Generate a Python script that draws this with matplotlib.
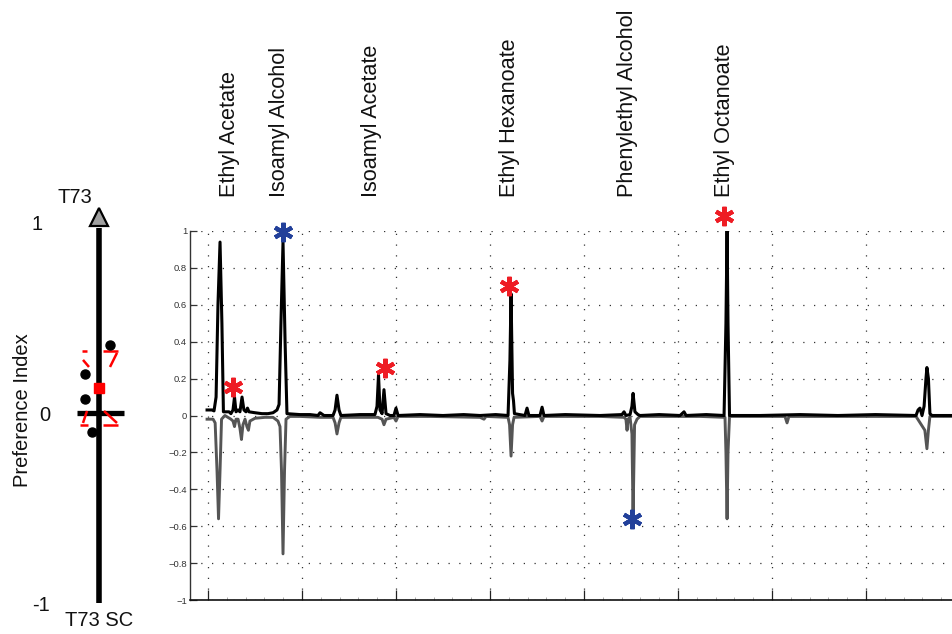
import matplotlib
matplotlib.use("Agg")
import matplotlib.pyplot as plt
from matplotlib.ticker import FixedLocator, FixedFormatter, MultipleLocator

plt.rcParams['font.family'] = ['Liberation Sans', 'DejaVu Sans']

# ---------------- data ----------------
# retention time (min) / response for T73 (positive trace)
t73_x = [4.95, 5.21, 5.32, 5.43, 5.53, 5.64, 5.74, 5.82, 5.96, 6.12, 6.22, 6.33, 6.41, 6.49,
         6.60, 6.70, 6.81, 6.91, 7.02, 7.10, 7.18, 7.50, 7.87, 8.19, 8.46, 8.67, 8.78, 8.88,
         8.99, 9.10, 9.20, 9.89, 10.43, 10.85, 10.96, 11.17, 11.65, 11.76, 11.86, 11.97, 12.07,
         13.09, 13.88, 13.99, 14.07, 14.15, 14.26, 14.36, 14.47, 14.68, 14.89, 15.00, 15.11,
         16.28, 17.5, 18.6, 19.47, 20.3, 20.96, 21.06, 21.12, 21.20, 21.25, 21.30, 21.86, 21.97,
         22.07, 22.66, 22.77, 22.87, 24.0, 25.85, 27.02, 27.13, 27.23, 27.45, 27.55, 27.61,
         27.71, 27.87, 27.98, 29.0, 30.11, 30.32, 30.43, 31.5, 32.45, 32.55, 32.61, 32.66,
         32.74, 34.36, 36.5, 38.5, 40.5, 42.66, 42.77, 42.87, 42.98, 43.09, 43.19, 43.24,
         43.32, 43.40, 43.51, 44.73]
t73_y = [0.03, 0.03, 0.025, 0.10, 0.60, 0.94, 0.50, 0.02, 0.02, 0.02, 0.01, 0.03, 0.10, 0.02,
         0.03, 0.02, 0.10, 0.03, 0.02, 0.04, 0.02, 0.015, 0.01, 0.01, 0.015, 0.03, 0.06, 0.50,
         0.94, 0.40, 0.01, 0.005, 0.005, 0.0, 0.015, 0.0, 0.0, 0.03, 0.11, 0.03, 0.0,
         0.005, 0.005, 0.05, 0.22, 0.03, 0.01, 0.14, 0.01, 0.0, 0.0, 0.04, 0.0,
         0.005, 0.0, 0.005, 0.0, 0.005, 0.0, 0.30, 0.66, 0.12, 0.08, 0.01, 0.0, 0.04,
         0.0, 0.0, 0.045, 0.0, 0.005, 0.0, 0.005, 0.02, 0.0, 0.005, 0.05, 0.12,
         0.02, 0.005, 0.0, 0.005, 0.0, 0.02, 0.0, 0.005, 0.0, 0.50, 1.00, 0.50,
         0.0, 0.0, 0.005, 0.0, 0.005, 0.0, 0.03, 0.04, 0.0, 0.05, 0.20, 0.26,
         0.20, 0.01, 0.0, 0.0]

# T73 SC (negative trace)
sc_x = [4.95, 5.27, 5.38, 5.48, 5.56, 5.64, 5.72, 5.90, 6.06, 6.22, 6.33, 6.41, 6.49, 6.60,
        6.70, 6.78, 6.86, 6.97, 7.07, 7.15, 7.23, 7.50, 8.03, 8.46, 8.72, 8.83, 8.91, 8.99,
        9.07, 9.15, 9.36, 9.89, 10.96, 11.65, 11.76, 11.86, 11.97, 12.07, 13.09, 14.04, 14.26,
        14.36, 14.47, 14.89, 15.00, 15.11, 16.81, 19.47, 19.68, 19.79, 20.96, 21.04, 21.12,
        21.20, 21.28, 22.66, 22.77, 22.87, 25.85, 27.13, 27.23, 27.29, 27.34, 27.45, 27.55,
        27.61, 27.69, 27.82, 27.98, 31.17, 32.50, 32.55, 32.61, 32.66, 32.74, 35.69, 35.80,
        35.90, 42.66, 43.13, 43.24, 43.32, 43.40, 44.73]
sc_y = [-0.02, -0.02, -0.04, -0.30, -0.56, -0.30, -0.02, 0.0, -0.01, -0.02, -0.03, -0.06,
        -0.02, -0.02, -0.07, -0.13, -0.05, -0.02, -0.06, -0.08, -0.03, -0.015, -0.01, -0.01,
        -0.03, -0.06, -0.30, -0.75, -0.30, -0.02, -0.005, -0.005, -0.01, -0.01, -0.04, -0.10,
        -0.04, -0.01, -0.01, -0.01, -0.02, -0.05, -0.02, -0.01, -0.03, -0.005, -0.005, -0.01,
        -0.02, -0.005, -0.01, -0.05, -0.22, -0.05, -0.01, -0.005, -0.03, -0.005, -0.005,
        -0.01, -0.02, -0.08, -0.02, -0.01, -0.10, -0.55, -0.05, -0.02, -0.005, -0.005,
        -0.01, -0.20, -0.56, -0.20, -0.005, -0.005, -0.04, -0.005, -0.005, -0.08, -0.18,
        -0.08, -0.005, -0.005]

compounds = ["Ethyl Acetate", "Isoamyl Alcohol", "Isoamyl Acetate", "Ethyl Hexanoate",
             "Phenylethyl Alcohol", "Ethyl Octanoate"]
compound_rt = [6.17, 8.78, 13.72, 21.06, 27.34, 32.45]

# significance asterisks (x, y, colour group)
star_x = [6.33, 8.99, 14.41, 21.01, 32.45, 27.55]
star_y = [0.154, 0.995, 0.257, 0.70, 1.08, -0.56]
star_kind = ["red", "blue", "red", "red", "red", "blue"]

y_ticks = [-1, -0.8, -0.6, -0.4, -0.2, 0, 0.2, 0.4, 0.6, 0.8, 1]
y_ticklabels = ["\u22121", "\u22120.8", "\u22120.6", "\u22120.4", "\u22120.2", "0",
                "0.2", "0.4", "0.6", "0.8", "1"]
x_ticks = [5, 10, 15, 20, 25, 30, 35, 40]

# preference index panel
pi_points = [0.354, 0.202, 0.071, -0.102]
pi_jitter = [0.275, -0.35, -0.35, -0.175]
pi_mean = 0.131
box_q3, box_q1 = 0.323, -0.066
notch_hi, notch_lo = 0.239, 0.008
notch_top, notch_bot = 0.276, -0.055

# ---------------- figure ----------------
W, H = 952, 634
fig = plt.figure(figsize=(W / 100, H / 100), dpi=100)

RED = "#ee1c24"
BLUE = "#22409a"
GRAY = "#555555"

ax = fig.add_axes([190 / W, 34 / H, 770 / W, 369 / H])
ax.plot(sc_x, sc_y, color=GRAY, lw=2.1, solid_joinstyle='round', zorder=3)
ax.plot(t73_x, t73_y, color="black", lw=2.2, solid_joinstyle='round', zorder=4)
ax.set_xlim(4.0426, 45.0)
ax.set_ylim(-1, 1)
ax.yaxis.set_major_locator(FixedLocator(y_ticks))
ax.yaxis.set_major_formatter(FixedFormatter(y_ticklabels))
ax.xaxis.set_major_locator(FixedLocator(x_ticks))
ax.xaxis.set_minor_locator(MultipleLocator(1))
ax.set_xticklabels([])
ax.tick_params(axis='y', direction='in', length=5, width=0.9, labelsize=6.8,
               colors="#333333", pad=2)
ax.tick_params(axis='x', which='major', direction='in', length=7, width=0.9, colors="#222222")
ax.tick_params(axis='x', which='minor', direction='in', length=2, width=0.5, colors="#888888")
for s in ['top', 'right']:
    ax.spines[s].set_visible(False)
ax.spines['left'].set_color("#333333")
ax.spines['bottom'].set_color("#111111")
ax.spines['left'].set_linewidth(1.0)
ax.spines['bottom'].set_linewidth(1.2)
ax.grid(True, which='major', color="#333333", linestyle=(0, (1, 7.6)), linewidth=0.9)

for x, y, k in zip(star_x, star_y, star_kind):
    ax.plot([x], [y], marker=(6, 2, 0), markersize=14, mew=3.0,
            color=RED if k == "red" else BLUE, clip_on=False, zorder=6)

for name, rt in zip(compounds, compound_rt):
    ax.text(rt, 1.184, name, rotation=90, ha='center', va='bottom', fontsize=15.6,
            color="#111111", clip_on=False)

# ---------------- preference index panel ----------------
lax = fig.add_axes([59 / W, 31 / H, 80 / W, 381 / H])
lax.set_xlim(-1, 1)
lax.set_ylim(-1, 1)
lax.axis('off')

lax.plot([0, 0], [-1, 0.97], color="black", lw=4.0, solid_capstyle='butt', clip_on=False, zorder=2)
lax.plot([0], [1.024], marker='^', markersize=13, mfc="#a0a0a0", mec="black", mew=1.6,
         clip_on=False, zorder=3)
lax.plot([-0.55, 0.625], [0.0, 0.0], color="black", lw=3.8, solid_capstyle='butt', zorder=2)

# notched box (red)
segs = [
    ([-0.425, -0.3], [box_q3, box_q3]),
    ([-0.4, -0.25], [notch_top, notch_hi]),
    ([0.1, 0.475], [box_q3, box_q3]),
    ([0.45, 0.275], [box_q3 - 0.01, notch_hi]),
    ([-0.3, -0.4], [notch_lo, notch_bot]),
    ([-0.475, -0.275], [box_q1, box_q1]),
    ([0.125, 0.45], [notch_lo, notch_bot]),
    ([0.1, 0.475], [box_q1, box_q1]),
]
for xs, ys in segs:
    lax.plot(xs, ys, color="red", lw=1.8, solid_capstyle='butt', zorder=4)

lax.plot(pi_jitter, pi_points, 'o', color="black", markersize=6.5, zorder=5)
lax.plot([0], [pi_mean], 's', color="red", markersize=6.5, zorder=6)

for v, lab, xx in [(1, "1", -1.55), (0, "0", -1.35), (-1, "-1", -1.45)]:
    lax.text(xx, v - 0.015, lab, ha='center', va='center', fontsize=14.5, color="#111111")
lax.text(-0.6, 1.131, "T73", ha='center', va='center', fontsize=14.5, color="#111111")
lax.text(0.0, -1.094, "T73 SC", ha='center', va='center', fontsize=14.5, color="#111111")
lax.text(-1.9, 0.013, "Preference Index", rotation=90, ha='center', va='center',
         fontsize=14.5, color="#111111")

fig.savefig("out.png", dpi=100)
